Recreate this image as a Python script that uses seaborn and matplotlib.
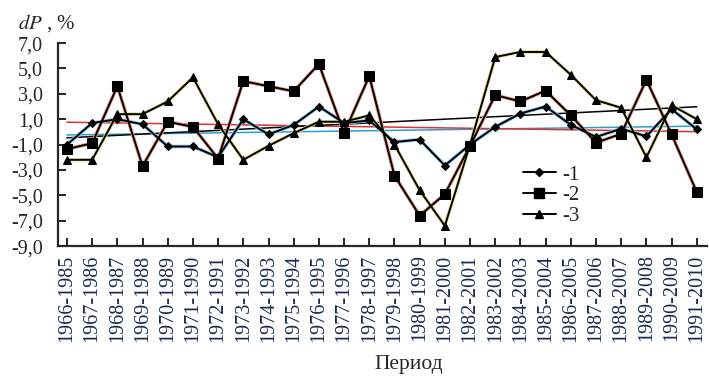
import matplotlib
matplotlib.use("Agg")
import matplotlib.pyplot as plt
from matplotlib.ticker import FuncFormatter
from matplotlib.lines import Line2D
import seaborn as sns
import numpy as np

sns.set_style("ticks")
plt.rcParams['font.family'] = ['Liberation Serif', 'DejaVu Serif']
plt.rcParams['mathtext.fontset'] = 'stix'

periods = ["%d-%d" % (y, y + 19) for y in range(1966, 1992)]
s1 = [-1.0, 0.7, 1.0, 0.6, -1.15, -1.15, -2.0, 1.0, -0.2, 0.55, 2.0, 0.7, 0.9,
      -0.8, -0.6, -2.65, -1.0, 0.4, 1.45, 2.0, 0.55, -0.4, 0.25, -0.35, 1.8, 0.2]
s2 = [-1.35, -0.9, 3.6, -2.7, 0.8, 0.4, -2.1, 4.0, 3.6, 3.2, 5.35, -0.1, 4.4,
      -3.45, -6.6, -4.9, -1.1, 2.9, 2.4, 3.25, 1.3, -0.85, -0.15, 4.1, -0.2, -4.75]
s3 = [-2.2, -2.2, 1.4, 1.4, 2.4, 4.3, 0.6, -2.2, -1.1, -0.1, 0.8, 0.8, 1.3,
      -1.0, -4.6, -7.4, -1.0, 5.9, 6.3, 6.3, 4.5, 2.5, 1.9, -2.0, 2.1, 1.0]
series_names = ["-1", "-2", "-3"]
y_ticks = [-9, -7, -5, -3, -1, 1, 3, 5, 7]

xs = np.arange(len(periods))

fig = plt.figure(figsize=(7.09, 3.78), dpi=100)
ax = fig.add_axes([0.082, 0.349, 0.915, 0.537])

# trend lines
trend_cols = ["#2a9fd0", "#e03030", "black"]
for vals, c in zip([s1, s2, s3], trend_cols):
    sns.regplot(x=xs, y=vals, scatter=False, ci=None, ax=ax,
                line_kws=dict(color=c, lw=1.1, zorder=2))

markers = ["D", "s", "^"]
msizes = [4, 7, 6]
halos = ["#8cc8ec", "#ec9a8c", "#e6e29a"]
for vals, m, ms, h in zip([s1, s2, s3], markers, msizes, halos):
    # faint coloured edge under each black line, as in the scan
    sns.lineplot(x=xs, y=vals, ax=ax, color=h, lw=2.6, zorder=2.5)
    sns.lineplot(x=xs, y=vals, ax=ax, color="black", lw=1.4, marker=m,
                 markersize=ms, markeredgecolor="black", zorder=3)

ax.set_xlim(-0.35, 25.4)
ax.set_ylim(-9, 7)
ax.set_yticks(y_ticks)
ax.yaxis.set_major_formatter(FuncFormatter(lambda v, p: ("%.1f" % v).replace(".", ",")))
ax.set_xticks(xs)
ax.set_xticklabels(periods, rotation=90, fontsize=14.5, color="#1a2a50")
ax.tick_params(axis="y", labelsize=14.5, direction="in", length=6, width=1.4, pad=11)
ax.tick_params(axis="x", direction="in", length=6, width=1.4, pad=6)
sns.despine(ax=ax)
for s in ["left", "bottom"]:
    ax.spines[s].set_linewidth(1.6)

ax.set_xlabel("Период", fontsize=15.5)
ax.xaxis.set_label_coords(0.54, -0.535)
ax.set_ylabel("")
fig.text(0.025, 0.94, r"$dP$ , %", fontsize=15, va="center", ha="left")

handles = [Line2D([], [], color="black", lw=1.4, marker=m, markersize=ms)
           for m, ms in zip(markers, msizes)]
ax.legend(handles, series_names, loc="upper left", bbox_to_anchor=(0.7, 0.45),
          frameon=False, fontsize=15, handlelength=1.6, labelspacing=0.05,
          handletextpad=0.3, borderpad=0)

fig.savefig("out.png", dpi=100)
